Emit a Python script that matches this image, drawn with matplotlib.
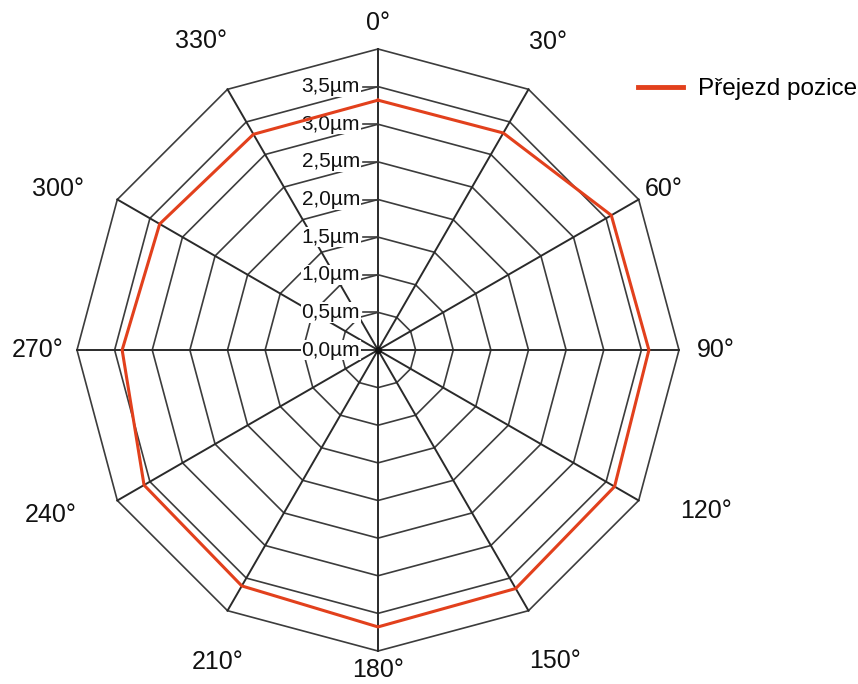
import numpy as np
import matplotlib
matplotlib.use("Agg")
import matplotlib.pyplot as plt

plt.rcParams["font.family"] = ["Liberation Sans", "DejaVu Sans"]

# data
angles_deg = [0, 30, 60, 90, 120, 150, 180, 210, 240, 270, 300, 330]
angle_labels = ["0°", "30°", "60°", "90°", "120°", "150°", "180°",
                "210°", "240°", "270°", "300°", "330°"]
values_um = [3.32, 3.33, 3.58, 3.60, 3.63, 3.66, 3.68, 3.62, 3.59, 3.40, 3.35, 3.31]
ring_values = [0.5, 1.0, 1.5, 2.0, 2.5, 3.0, 3.5, 4.0]
tick_values = [0.0, 0.5, 1.0, 1.5, 2.0, 2.5, 3.0, 3.5]
tick_labels = ["0,0µm", "0,5µm", "1,0µm", "1,5µm", "2,0µm", "2,5µm", "3,0µm", "3,5µm"]
series_name = "Přejezd pozice"

# layout (pixels)
W, H, DPI = 858, 684, 100
CX, CY = 378, 350          # centre, from top-left
PX = 301 / 4.0             # pixels per µm
# label offsets from outer vertex, screen px (dx right, dy down)
label_offsets = [(0, -26), (20, -47), (25, -10), (37, 0), (67, 10), (27, 50),
                 (0, 19), (-10, 51), (-67, 14), (-39, 0), (-59, -10), (-26, -48)]

GRID = "#3c3c3c"
RED = "#e2401c"


def xy(r, deg):
    t = np.deg2rad(deg)
    return r * np.sin(t), r * np.cos(t)


fig = plt.figure(figsize=(W / DPI, H / DPI), dpi=DPI)
ax = fig.add_axes([0, 0, 1, 1])
ax.set_xlim(-CX / PX, (W - CX) / PX)
ax.set_ylim(-(H - CY) / PX, CY / PX)
ax.axis("off")

theta_closed = np.array(angles_deg + [angles_deg[0]])

# rings
for r in ring_values:
    x, y = xy(r, theta_closed)
    ax.plot(x, y, color=GRID, lw=1.2, zorder=1)

# spokes
for a in angles_deg:
    x, y = xy(np.array([0, ring_values[-1]]), a)
    ax.plot(x, y, color="#2a2a2a", lw=1.4, zorder=1)
ax.plot([0], [0], "o", color="#111111", ms=4, zorder=2)

# radial ticks + labels
for v, lab in zip(tick_values, tick_labels):
    ax.plot([-0.2, 0], [v, v], color=GRID, lw=1.2, zorder=1)
    ax.text(-18 / PX, v, lab, ha="right", va="center", fontsize=15,
            color="#111111", zorder=3,
            bbox=dict(facecolor="white", edgecolor="none", pad=0.5))

# angle labels
for a, lab, (dx, dy) in zip(angles_deg, angle_labels, label_offsets):
    x, y = xy(ring_values[-1], a)
    ax.text(x + dx / PX, y - dy / PX, lab, ha="center", va="center",
            fontsize=18, color="#111111")

# series
x, y = xy(np.array(values_um + [values_um[0]]), theta_closed)
ax.plot(x, y, color=RED, lw=2.2, zorder=4, label=series_name)

leg = ax.legend(loc="center left", bbox_to_anchor=(628 / W, 1 - 89 / H),
                frameon=False, fontsize=17.5, handlelength=1.85,
                handletextpad=0.65, borderaxespad=0)
for line in leg.get_lines():
    line.set_linewidth(3.5)

fig.savefig("out.png", dpi=DPI)
